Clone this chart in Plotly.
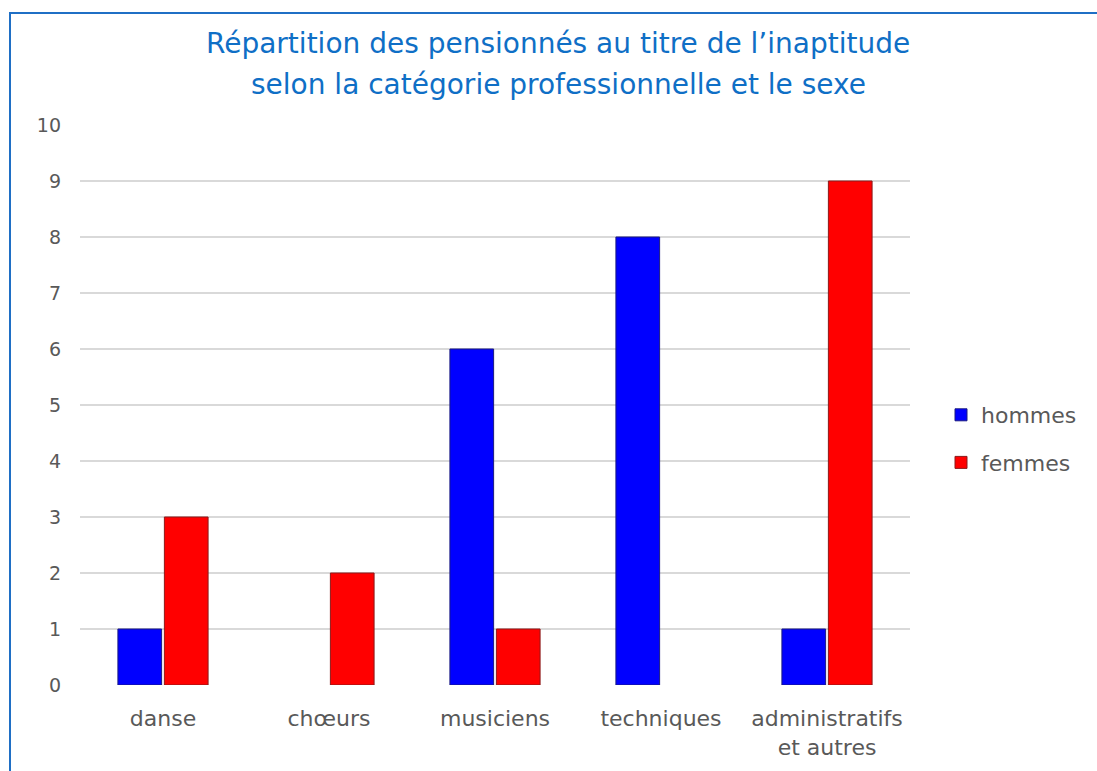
import plotly.graph_objects as go

categories = ["danse", "chœurs", "musiciens", "techniques", "administratifs<br>et autres"]
hommes = [1, 0, 6, 8, 1]
femmes = [3, 2, 1, 0, 9]
title_lines = ["Répartition des pensionnés au titre de l’inaptitude",
               "selon la catégorie professionnelle et le sexe"]

W, H = 1097, 771
L, R, T, B = 80, 187, 125, 86
pw, ph = W - L - R, H - T - B
FONT = "DejaVu Sans, Lato, sans-serif"

def px_x(x):
    return (x - L) / pw

def px_y(y):
    return (H - B - y) / ph

def outline(vals):
    # no outline on empty bars
    return [1 if v > 0 else 0 for v in vals]

fig = go.Figure()
fig.add_trace(go.Bar(name="hommes", x=categories, y=hommes, legendgroup="h",
                     marker=dict(color="#0000FF",
                                 line=dict(color="#1A1A80", width=outline(hommes)))))
fig.add_trace(go.Bar(name="femmes", x=categories, y=femmes, legendgroup="f",
                     marker=dict(color="#FF0000",
                                 line=dict(color="#8B1A1A", width=outline(femmes)))))

fig.update_layout(
    width=W, height=H,
    margin=dict(l=L, r=R, t=T, b=B),
    paper_bgcolor="white", plot_bgcolor="white",
    barmode="group", bargap=0.44, bargroupgap=0.06,
    font=dict(family=FONT, color="#595959"),
    xaxis=dict(showgrid=False, showline=False, ticks="", ticklabelstandoff=18,
               tickfont=dict(size=22, color="#595959")),
    yaxis=dict(range=[0, 10], dtick=1, showgrid=True, gridcolor="#D9D9D9", gridwidth=2,
               zeroline=False, showline=False, ticks="", ticklabelstandoff=18,
               tickfont=dict(size=19, color="#595959")),
    legend=dict(x=px_x(941), y=px_y(394), xanchor="left", yanchor="top",
                font=dict(size=22, color="#595959"), itemwidth=30,
                tracegroupgap=16, bgcolor="rgba(0,0,0,0)"),
    showlegend=True,
)

# Two-line title
for line, yc in zip(title_lines, [43, 84]):
    fig.add_annotation(text=line, xref="paper", yref="paper",
                       x=px_x(558), y=px_y(yc), xanchor="center", yanchor="middle",
                       showarrow=False,
                       font=dict(size=28, color="#0F6FC6", family=FONT))

# Blue frame around the chart
fig.add_shape(type="rect", xref="paper", yref="paper",
              x0=px_x(10), x1=px_x(1110), y0=px_y(785), y1=px_y(13),
              line=dict(color="#1F6FC5", width=2), layer="below")

fig.write_html("out.html")
